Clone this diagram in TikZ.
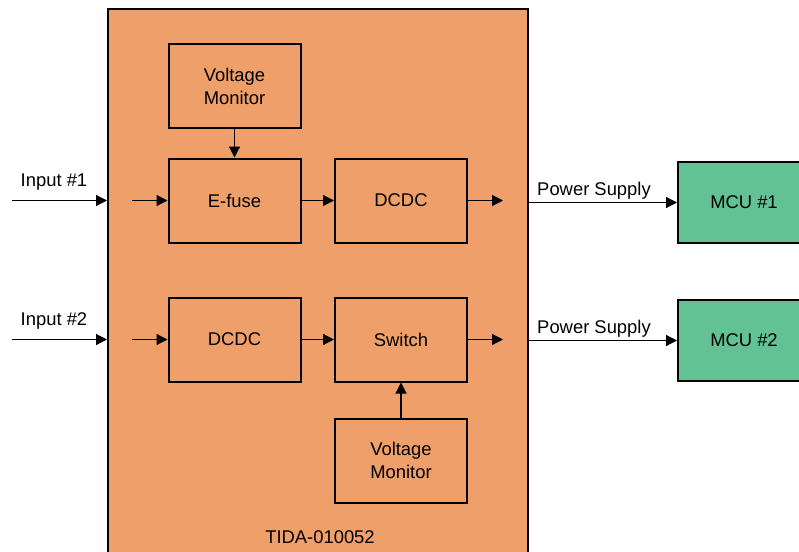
\documentclass[tikz,border=0pt]{standalone}
\usepackage{fontspec}
\setmainfont{Liberation Sans}
\usetikzlibrary{arrows.meta}
\definecolor{boardorange}{RGB}{239,159,106}
\definecolor{mcugreen}{RGB}{99,194,147}
\begin{document}
\begin{tikzpicture}[
x=0.5pt, y=-0.5pt,
font=\fontsize{9.2}{11.5}\selectfont,
block/.style={
draw,
line width=1pt,
align=center,
minimum width=66pt,
minimum height=42pt,
inner sep=0pt
},
mcu/.style={block, fill=mcugreen, minimum height=40.5pt},
txt/.style={inner sep=0pt, anchor=base},
wire/.style={-{Triangle[length=5.5pt,width=5.5pt]}, line width=0.6pt}
]
\useasboundingbox (0,0) rectangle (799,552);
\clip (0,0) rectangle (799,552);

\node[block, fill=boardorange, minimum width=210pt, minimum height=281pt] (B) at (318,290) {};

\node[block] (VM1) at (234.5,86)
{Voltage\\Monitor};

\node[block] (EF) at (234.5,200.5)
{E-fuse};

\node[block] (DC1) at (401,200.5)
{DCDC};

\node[block] (DC2) at (234.5,339.5)
{DCDC};

\node[block] (SW) at (401,339.5)
{Switch};

\node[block] (VM2) at (401,460.5)
{Voltage\\Monitor};

\node[mcu] (M1) at (744,202.5)
{MCU \#1};

\node[mcu] (M2) at (744,340.5)
{MCU \#2};

\node[txt] (L1) at (54,186) {Input \#1};
\node[txt] (L2) at (54,325) {Input \#2};
\node[txt] (P1) at (594,195) {Power Supply};
\node[txt] (P2) at (594,333) {Power Supply};
\node[txt] (T) at (320,543) {TIDA-010052};

\coordinate (I1) at (12,200.5);
\coordinate (I2) at (12,339.5);
\coordinate (E1) at (132,200.5);
\coordinate (E2) at (132,339.5);
\coordinate (O1) at (503,200.5);
\coordinate (O2) at (503,339.5);

\draw[wire] (I1) -- (I1 -| B.west);
\draw[wire] (I2) -- (I2 -| B.west);
\draw[wire] (E1) -- (EF);
\draw[wire] (E2) -- (DC2);
\draw[wire] (VM1) -- (EF);
\draw[wire] (EF) -- (DC1);
\draw[wire] (DC2) -- (SW);
\draw[wire] (VM2) -- (SW);
\draw[wire] (DC1) -- (O1);
\draw[wire] (SW) -- (O2);
\draw[wire] (M1 -| B.east) -- (M1);
\draw[wire] (M2 -| B.east) -- (M2);

\end{tikzpicture}
\end{document}
